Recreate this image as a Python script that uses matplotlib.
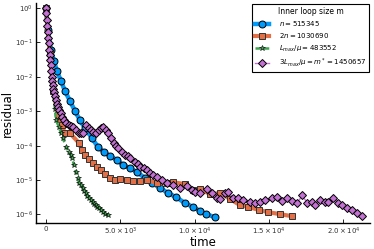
import matplotlib
matplotlib.use("Agg")
import matplotlib.pyplot as plt
import numpy as np

# ---- data ----
t_n = [0, 135, 337, 538, 740, 1010, 1279, 1615, 1952, 2288, 2625, 3096, 3500, 3903, 4307,
       4778, 5182, 5653, 6124, 6663, 7134, 7672, 8211, 8749, 9355, 9893, 10364, 10768, 11374]
r_n = [1.0, 0.23, 0.060, 0.029, 0.0148, 0.0076, 0.0039, 0.0020, 0.00102, 5.5e-4, 3.2e-4,
       1.66e-4, 9.1e-5, 6.5e-5, 5.0e-5, 3.8e-5, 2.75e-5, 2.24e-5, 1.70e-5, 1.15e-5, 8.2e-6,
       5.9e-6, 4.2e-6, 3.2e-6, 2.14e-6, 1.65e-6, 1.26e-6, 1.03e-6, 8.3e-7]

t_2n = [0, 250, 500, 800, 1050, 1279, 1615, 2221, 2423, 2625, 2894, 3163, 3432, 3702, 3971,
        4307, 4644, 4980, 5451, 5855, 6326, 6797, 7470, 8143, 8547, 9355, 9893, 10364, 11037,
        11710, 12383, 13056, 13595, 14335, 14941, 15748, 16556]
r_2n = [1.0, 0.05, 4e-3, 8e-4, 4e-4, 2.3e-4, 2.3e-4, 1.2e-4, 7.4e-5, 5.4e-5, 4.1e-5, 3.1e-5,
        2.4e-5, 1.95e-5, 1.48e-5, 1.15e-5, 1.0e-5, 1.07e-5, 1.0e-5, 9.3e-6, 9.3e-6, 1.0e-5,
        8.1e-6, 8.1e-6, 8.7e-6, 7.6e-6, 5.1e-6, 5.5e-6, 3.9e-6, 4.2e-6, 2.8e-6, 1.86e-6,
        1.66e-6, 1.35e-6, 1.17e-6, 1.02e-6, 8.9e-7]

t_L = [0, 150, 300, 450, 600, 673, 875, 1010, 1144, 1346, 1548, 1683, 1750, 1884, 2019, 2154,
       2221, 2356, 2490, 2592, 2692, 2794, 2894, 3030, 3163, 3265, 3365, 3467, 3567, 3700,
       3836, 4000, 4173]
r_L = [1.0, 0.2, 0.03, 5e-3, 1.2e-3, 5.5e-4, 3.5e-4, 2.3e-4, 1.66e-4, 9.1e-5, 6.5e-5, 5.4e-5,
       4.4e-5, 2.75e-5, 1.7e-5, 1.15e-5, 8.1e-6, 7.0e-6, 5.9e-6, 4.9e-6, 4.2e-6, 3.5e-6,
       3.0e-6, 2.6e-6, 2.3e-6, 2.0e-6, 1.86e-6, 1.7e-6, 1.55e-6, 1.35e-6, 1.17e-6, 1.05e-6,
       9.5e-7]

t_3L = [0, 34, 67, 101, 135, 168, 202, 236, 269, 303, 337, 370, 404, 438, 471, 505, 538, 605,
        673, 740, 808, 909, 1010, 1110, 1211, 1346, 1548, 1683, 1817, 2019, 2221, 2356, 2490,
        2692, 2894, 3030, 3163, 3365, 3567, 3700, 3836, 4038, 4173, 4375, 4576, 4711, 4846,
        5115, 5317, 5485, 5653, 5990, 6158, 6326, 6560, 6797, 7000, 7201, 7500, 7807, 8143,
        8547, 9018, 9489, 9826, 10028, 10364, 10835, 11172, 11508, 11710, 12047, 12249, 12585,
        12922, 13258, 13729, 14066, 14402, 14739, 15210, 15546, 15883, 16219, 16556, 16892,
        17229, 17565, 17902, 18104, 18440, 18777, 18979, 19315, 19652, 19921, 20257, 20594,
        20930, 21267]
r_3L = [1.0, 0.7, 0.45, 0.3, 0.2, 0.13, 0.095, 0.062, 0.043, 0.03, 0.022, 0.015, 0.01, 0.0075,
        0.0057, 0.0045, 0.0036, 0.0028, 0.0021, 0.0016, 0.0013, 0.0011, 8.9e-4, 7.0e-4, 5.5e-4,
        4.6e-4, 4.0e-4, 3.7e-4, 3.5e-4, 2.8e-4, 2.35e-4, 2.4e-4, 2.35e-4, 4.0e-4, 3.2e-4,
        2.8e-4, 2.5e-4, 2.35e-4, 2.8e-4, 3.2e-4, 3.5e-4, 2.8e-4, 2.35e-4, 1.66e-4, 1.2e-4,
        1.0e-4, 8.5e-5, 6.5e-5, 5.4e-5, 4.9e-5, 4.4e-5, 3.3e-5, 2.9e-5, 2.4e-5, 2.2e-5,
        1.95e-5, 1.65e-5, 1.4e-5, 1.2e-5, 1.0e-5, 8.1e-6, 7.1e-6, 5.9e-6, 6.8e-6, 5.1e-6,
        4.5e-6, 4.2e-6, 5.5e-6, 4.2e-6, 3.0e-6, 2.8e-6, 4.2e-6, 4.5e-6, 3.0e-6, 3.0e-6,
        2.6e-6, 2.3e-6, 2.15e-6, 2.3e-6, 2.6e-6, 3.0e-6, 3.2e-6, 2.45e-6, 3.0e-6, 2.45e-6,
        2.15e-6, 3.6e-6, 2.15e-6, 2.3e-6, 1.86e-6, 2.6e-6, 2.3e-6, 2.3e-6, 3.0e-6, 2.15e-6,
        1.86e-6, 1.55e-6, 1.35e-6, 1.1e-6, 8.9e-7]

labels = [r"$n = 515345$", r"$2n = 1030690$", r"$L_{max}/\mu = 483552$",
          r"$3L_{max}/\mu = m^* = 1450657$"]
legend_title = "Inner loop size m"
xticks = [0, 5000, 10000, 15000, 20000]
xticklabels = ["0", r"$5.0\times10^{3}$", r"$1.0\times10^{4}$", r"$1.5\times10^{4}$",
               r"$2.0\times10^{4}$"]
yticks = [1e0, 1e-1, 1e-2, 1e-3, 1e-4, 1e-5, 1e-6]
yticklabels = [r"$10^{0}$", r"$10^{-1}$", r"$10^{-2}$", r"$10^{-3}$", r"$10^{-4}$",
               r"$10^{-5}$", r"$10^{-6}$"]

# ---- plot ----
blue = "#009AFA"
orange = "#E36F47"
green = "#3EA44E"
purple = "#C371D2"

fig = plt.figure(figsize=(3.74, 2.49), dpi=100)
ax = fig.add_axes([0.096, 0.104, 0.894, 0.884])

ax.plot(t_n, r_n, color=blue, lw=3.2, marker="o", ms=5, mfc=blue, mec="black", mew=0.7,
        label=labels[0])
ax.plot(t_2n, r_2n, color=orange, lw=3, marker="s", ms=5, mfc=orange, mec="#333333",
        mew=0.7, label=labels[1])
ax.plot(t_L, r_L, color=green, lw=1.8, ls=(0, (2, 1.5)), marker="*", ms=4, mfc=green,
        mec="black", mew=0.4, label=labels[2])
ax.plot(t_3L, r_3L, color=purple, lw=1, marker="D", ms=4.5, mfc=purple, mec="black",
        mew=0.7, label=labels[3])

ax.set_yscale("log")
ax.set_xlim(-672, 21800)
ax.set_ylim(10 ** -6.25, 10 ** 0.145)
ax.set_xticks(xticks)
ax.set_xticklabels(xticklabels)
ax.set_yticks(yticks)
ax.set_yticklabels(yticklabels)
ax.minorticks_off()
ax.tick_params(direction="in", length=3, width=0.6, labelsize=5, colors="black",
               labelcolor="#333333", pad=2)

for s in ["top", "right"]:
    ax.spines[s].set_visible(False)
for s in ["left", "bottom"]:
    ax.spines[s].set_linewidth(1.0)

ax.set_xlabel("time", fontsize=8.5)
ax.set_ylabel("residual", fontsize=8.5)
ax.xaxis.set_label_coords(0.5, -0.058)
ax.yaxis.set_label_coords(-0.066, 0.5)

leg = ax.legend(title=legend_title, loc="upper right", fontsize=5, title_fontsize=5.5,
                frameon=True, fancybox=False, edgecolor="black", framealpha=1,
                handlelength=2.0, handletextpad=1.5, labelspacing=0.45, borderpad=0.4,
                borderaxespad=0.2)
leg.get_frame().set_linewidth(0.8)

fig.savefig("out.png", dpi=100)
